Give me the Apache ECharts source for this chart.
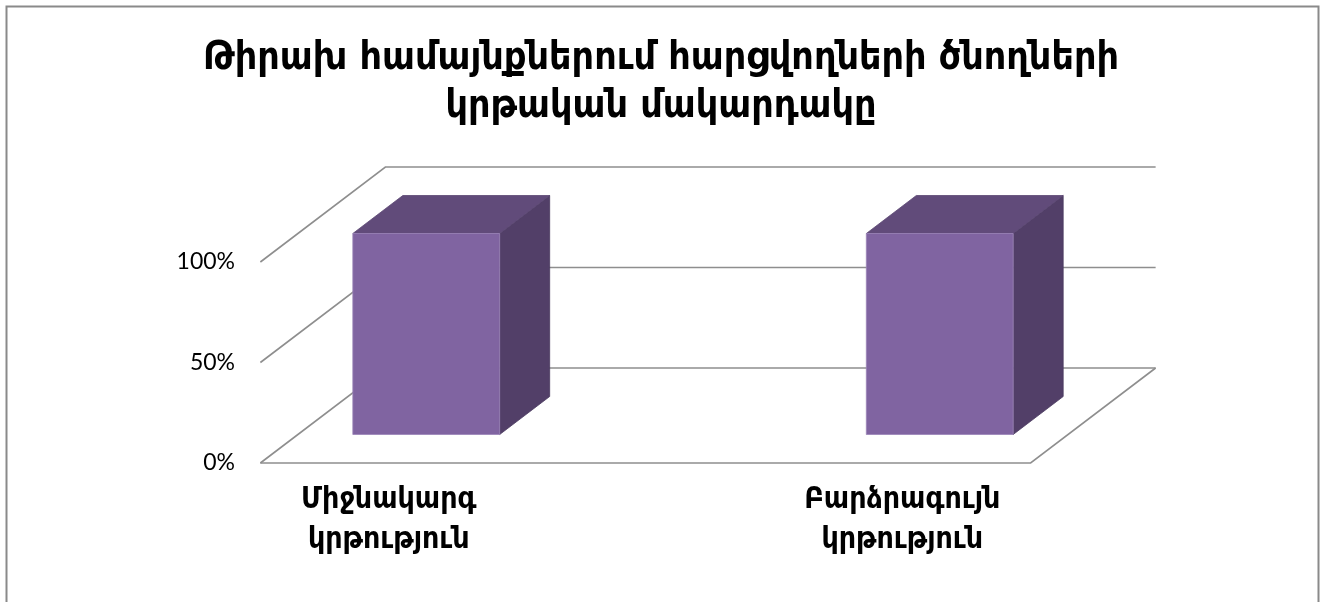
<!DOCTYPE html>
<html>
<head>
<meta charset="utf-8">
<script src="https://cdn.jsdelivr.net/npm/echarts@6/dist/echarts.min.js"></script>
<style>
html,body{margin:0;padding:0;background:#fff;}
#main{width:1322px;height:602px;}
</style>
</head>
<body>
<div id="main"></div>
<script>
// ---- data ----
const titleText = 'Թիրախ համայնքներում հարցվողների ծնողների\nկրթական մակարդակը';
const categories = ['Միջնակարգ\nկրթություն', 'Բարձրագույն\nկրթություն'];
const values = [100, 100];
const yTicks = [0, 50, 100];

// ---- style constants (3D projection) ----
const DX = 125, DY = -95;       // depth vector in px
const FRONT = 0.3, DEPTH = 0.4; // bar position within depth
const HALF_W = 0.143;           // bar half width (fraction of band)
const EXT = 0.25;               // floor extension beyond category centres (bands)
const lineColor = '#8e8e8e';

const chart = echarts.init(document.getElementById('main'));

function wallItem(params, api) {
  const level = api.value(1);
  const p0 = api.coord([0, level]);
  const p1 = api.coord([1, level]);
  const band = api.size([1, 0])[0];
  const left = p0[0] - EXT * band;
  const right = p1[0] + EXT * band;
  const y = p0[1];
  const st = { stroke: lineColor, lineWidth: 1.6, fill: null };
  const children = [
    { type: 'polyline', shape: { points: [[left, y], [left + DX, y + DY], [right + DX, y + DY]] }, style: st }
  ];
  if (level === 0) {
    children.push({ type: 'polyline', shape: { points: [[left, y], [right, y], [right + DX, y + DY]] }, style: st });
  }
  return { type: 'group', children: children };
}

function barItem(params, api) {
  const cat = api.value(0);
  const b = api.coord([cat, 0]);
  const t = api.coord([cat, api.value(1)]);
  const band = api.size([1, 0])[0];
  const hw = HALF_W * band;
  const ox = FRONT * DX, oy = FRONT * DY;
  const ddx = DEPTH * DX, ddy = DEPTH * DY;
  const L = b[0] + ox - hw, R = b[0] + ox + hw;
  const B = b[1] + oy, T = t[1] + oy;
  return {
    type: 'group',
    children: [
      { type: 'polygon', shape: { points: [[R, T], [R + ddx, T + ddy], [R + ddx, B + ddy], [R, B]] },
        style: { fill: '#523f68', stroke: '#4a3a60', lineWidth: 0.8 } },
      { type: 'polygon', shape: { points: [[L, T], [R, T], [R + ddx, T + ddy], [L + ddx, T + ddy]] },
        style: { fill: '#614b7a', stroke: '#5a4672', lineWidth: 0.8 } },
      { type: 'rect', shape: { x: L, y: T, width: R - L, height: B - T },
        style: { fill: '#8064a1', stroke: '#9a84b8', lineWidth: 0.8 } }
    ]
  };
}

const option = {
  animation: false,
  backgroundColor: '#ffffff',
  graphic: [{
    type: 'rect', left: 4, top: 4,
    shape: { width: 1312, height: 610 },
    style: { fill: null, stroke: '#8a8a8a', lineWidth: 2 }, silent: true
  }],
  title: {
    text: titleText,
    left: 'center', top: 30,
    textStyle: {
      fontFamily: 'DejaVu Sans Condensed, DejaVu Sans',
      fontWeight: 'bold', fontSize: 39, lineHeight: 48, color: '#000'
    }
  },
  grid: { left: 132, top: 262, width: 1027, height: 201, containLabel: false },
  xAxis: {
    type: 'category',
    data: categories,
    axisLine: { show: false },
    axisTick: { show: false },
    splitLine: { show: false },
    axisLabel: {
      margin: 17, interval: 0,
      fontFamily: 'DejaVu Sans Condensed, DejaVu Sans',
      fontWeight: 'bold', fontSize: 30, lineHeight: 40, color: '#000'
    }
  },
  yAxis: {
    type: 'value', min: 0, max: 100, interval: 50,
    offset: -128,
    axisLine: { show: false },
    axisTick: { show: false },
    splitLine: { show: false },
    axisLabel: {
      margin: 25, formatter: '{value}%',
      fontFamily: 'Lato', fontSize: 23, color: '#000'
    }
  },
  series: [
    {
      type: 'custom', name: 'wall', renderItem: wallItem, silent: true, z: 1,
      encode: { x: 0, y: 1 },
      data: yTicks.map(v => [0, v])
    },
    {
      type: 'custom', name: 'bars', renderItem: barItem, z: 2,
      encode: { x: 0, y: 1 },
      data: values.map((v, i) => [i, v])
    }
  ]
};
chart.setOption(option);
</script>
</body>
</html>
